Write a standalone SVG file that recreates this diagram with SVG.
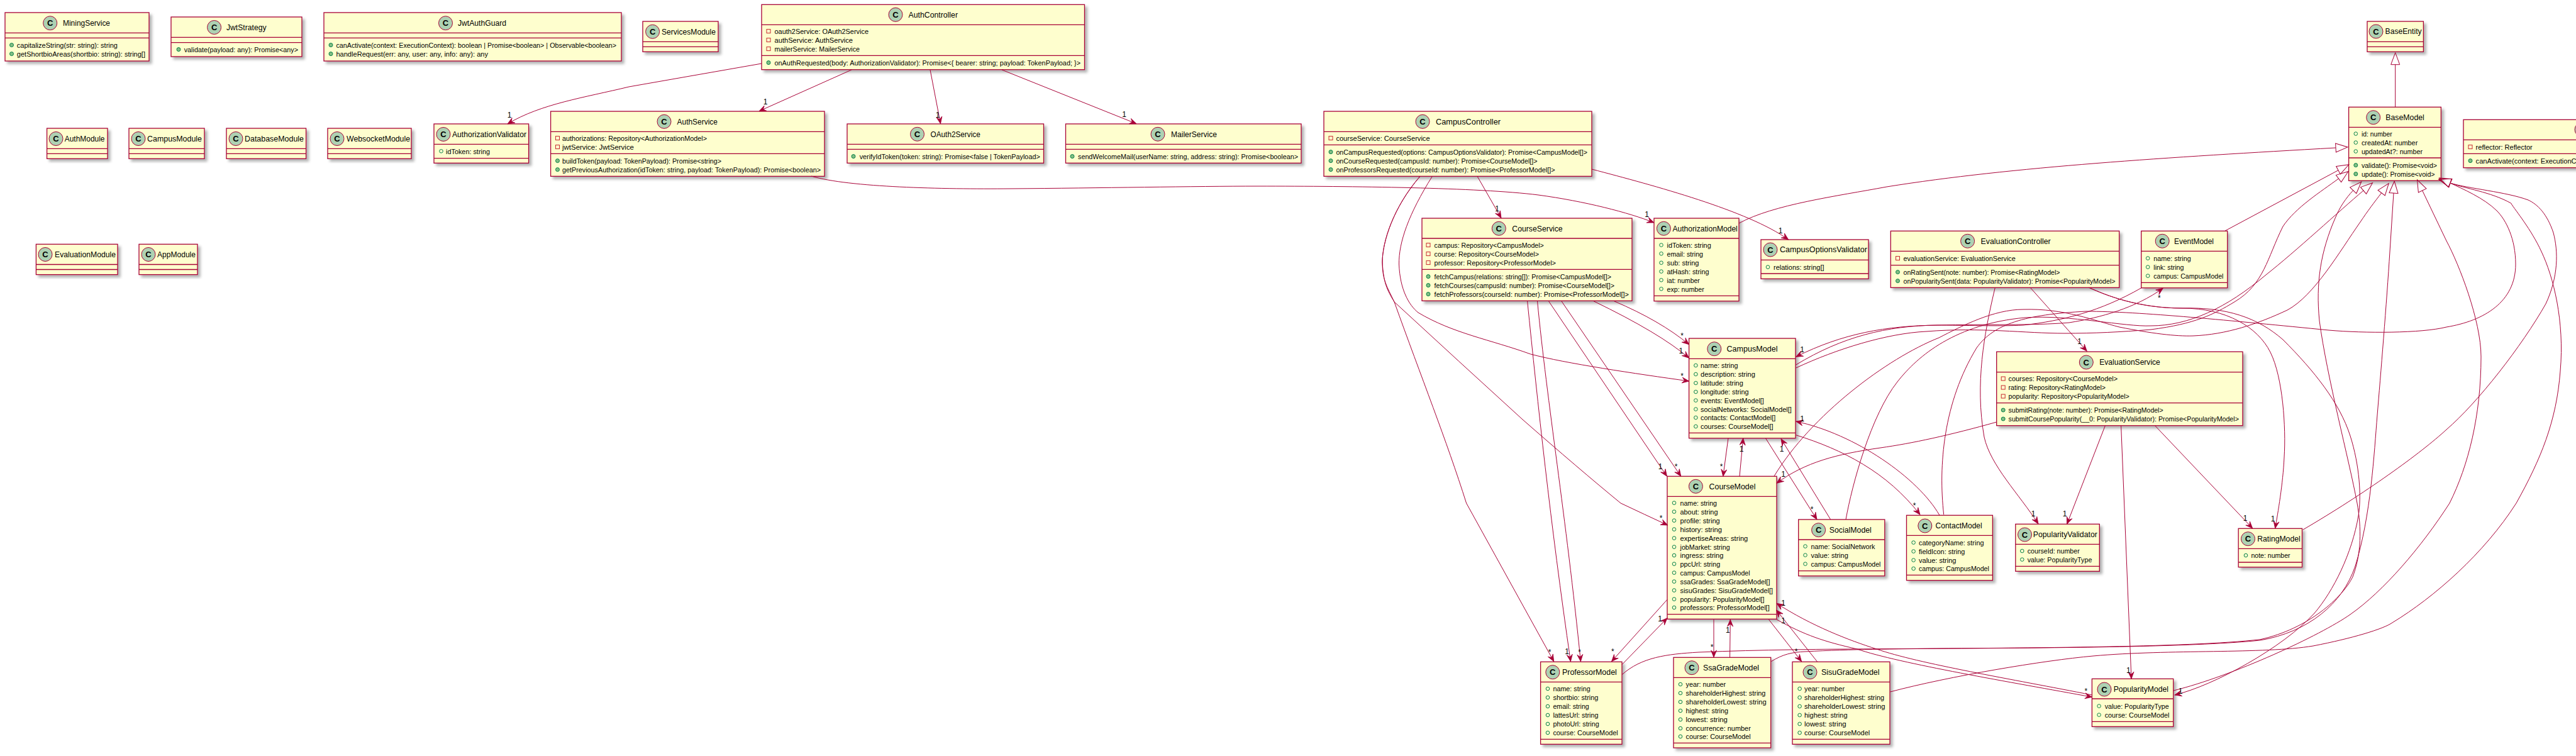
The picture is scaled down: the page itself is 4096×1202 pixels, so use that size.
<svg xmlns="http://www.w3.org/2000/svg" xmlns:xlink="http://www.w3.org/1999/xlink" width="4096" height="1202" viewBox="0 0 4096 1202">
<style>
text{font-family:"Liberation Sans",Arial,sans-serif;fill:#000}
.t{font-size:12px}
.m{font-size:11px}
.s{font-size:13px;font-weight:bold;text-anchor:middle}
.l{font-size:12px;text-anchor:middle}
.b{fill:#FEFECE;stroke:#A80036;stroke-width:1.3;filter:url(#sh)}
.d{stroke:#A80036;stroke-width:1.3;fill:none}
.c{fill:#ADD1B2;stroke:#A80036;stroke-width:1}
#edges path{fill:none;stroke:#A80036;stroke-width:1}
.a{marker-end:url(#ar)}
.i{marker-end:url(#tr)}
</style>
<defs>
<filter id="sh" x="-5%" y="-10%" width="115%" height="125%"><feGaussianBlur in="SourceAlpha" stdDeviation="2"/><feColorMatrix type="matrix" values="0 0 0 0 0 0 0 0 0 0 0 0 0 0 0 0 0 0 .3 0"/><feOffset dx="3.5" dy="3.5" result="o"/><feMerge><feMergeNode in="o"/><feMergeNode in="SourceGraphic"/></feMerge></filter>
<marker id="ar" markerUnits="userSpaceOnUse" markerWidth="14" markerHeight="12" refX="11" refY="6" orient="auto" overflow="visible"><path d="M11 6L0 1.5 4 6 0 10.5Z" fill="#A80036" stroke="#A80036" stroke-width=".8"/></marker>
<marker id="tr" markerUnits="userSpaceOnUse" markerWidth="22" markerHeight="18" refX="1" refY="9" orient="auto" overflow="visible"><path d="M1 2L20 9 1 16Z" fill="none" stroke="#A80036" stroke-width="1"/></marker>
<circle id="f" r="2.8" fill="none" stroke="#038048" stroke-width="1"/>
<circle id="p" r="3" fill="#84BE84" stroke="#038048" stroke-width="1"/>
<rect id="q" x="-3" y="-3" width="6" height="6" fill="none" stroke="#C82930" stroke-width="1"/>
</defs>
<g id="nodes">
<g id="MiningService"><rect class="b" x="8" y="20" width="229" height="77"/><path class="d" d="M8 52.3H237M8 60.3H237"/><ellipse class="c" cx="79.7" cy="36.7" rx="11" ry="11"/><text class="s" x="79.7" y="41.4">C</text><text class="t" x="100" y="40.9" textLength="75" lengthAdjust="spacingAndGlyphs">MiningService</text><use href="#p" x="18.5" y="71.6"/><text class="m" x="26.8" y="76" textLength="160.2" lengthAdjust="spacingAndGlyphs">capitalizeString(str: string): string</text><use href="#p" x="18.5" y="85.6"/><text class="m" x="26.8" y="90" textLength="204.2" lengthAdjust="spacingAndGlyphs">getShortbioAreas(shortbio: string): string[]</text></g>
<g id="JwtStrategy"><rect class="b" x="272" y="27" width="208" height="63"/><path class="d" d="M272 59.3H480M272 67.7H480"/><ellipse class="c" cx="340.6" cy="43.5" rx="11" ry="11"/><text class="s" x="340.6" y="48.2">C</text><text class="t" x="360" y="47.7" textLength="63.5" lengthAdjust="spacingAndGlyphs">JwtStrategy</text><use href="#p" x="284" y="78.6"/><text class="m" x="292.7" y="83" textLength="181.3" lengthAdjust="spacingAndGlyphs">validate(payload: any): Promise&lt;any&gt;</text></g>
<g id="JwtAuthGuard"><rect class="b" x="515" y="20" width="473" height="77"/><path class="d" d="M515 52.3H988M515 60.3H988"/><ellipse class="c" cx="708.5" cy="36.7" rx="11" ry="11"/><text class="s" x="708.5" y="41.4">C</text><text class="t" x="728" y="40.9" textLength="77" lengthAdjust="spacingAndGlyphs">JwtAuthGuard</text><use href="#p" x="526" y="71.6"/><text class="m" x="534.4" y="76" textLength="445.6" lengthAdjust="spacingAndGlyphs">canActivate(context: ExecutionContext): boolean | Promise&lt;boolean&gt; | Observable&lt;boolean&gt;</text><use href="#p" x="526" y="85.6"/><text class="m" x="534.4" y="90" textLength="241.6" lengthAdjust="spacingAndGlyphs">handleRequest(err: any, user: any, info: any): any</text></g>
<g id="ServicesModule"><rect class="b" x="1022" y="34" width="120" height="48.3"/><path class="d" d="M1022 66.3H1142M1022 74.3H1142"/><ellipse class="c" cx="1037.6" cy="50.3" rx="11" ry="11"/><text class="s" x="1037.6" y="55">C</text><text class="t" x="1052" y="54.5" textLength="86" lengthAdjust="spacingAndGlyphs">ServicesModule</text></g>
<g id="AuthController"><rect class="b" x="1211" y="7.3" width="513.5" height="103.4"/><path class="d" d="M1211 39.3H1724.5M1211 88.3H1724.5"/><ellipse class="c" cx="1424" cy="23.3" rx="11" ry="11"/><text class="s" x="1424" y="28">C</text><text class="t" x="1444.5" y="27.5" textLength="78.5" lengthAdjust="spacingAndGlyphs">AuthController</text><use href="#q" x="1222" y="49.6"/><text class="m" x="1231.5" y="54" textLength="149.5" lengthAdjust="spacingAndGlyphs">oauth2Service: OAuth2Service</text><use href="#q" x="1222" y="63.6"/><text class="m" x="1231.5" y="68" textLength="124.5" lengthAdjust="spacingAndGlyphs">authService: AuthService</text><use href="#q" x="1222" y="77.6"/><text class="m" x="1231.5" y="82" textLength="135.5" lengthAdjust="spacingAndGlyphs">mailerService: MailerService</text><use href="#p" x="1222" y="99.6"/><text class="m" x="1231.5" y="104" textLength="486.5" lengthAdjust="spacingAndGlyphs">onAuthRequested(body: AuthorizationValidator): Promise&lt;{ bearer: string; payload: TokenPayload; }&gt;</text></g>
<g id="AuthModule"><rect class="b" x="74.6" y="204" width="96.4" height="48.3"/><path class="d" d="M74.6 236.3H171M74.6 244.3H171"/><ellipse class="c" cx="89" cy="220.5" rx="11" ry="11"/><text class="s" x="89" y="225.2">C</text><text class="t" x="102.7" y="224.7" textLength="63.8" lengthAdjust="spacingAndGlyphs">AuthModule</text></g>
<g id="CampusModule"><rect class="b" x="205" y="204" width="120" height="48.3"/><path class="d" d="M205 236.3H325M205 244.3H325"/><ellipse class="c" cx="220" cy="220.5" rx="11" ry="11"/><text class="s" x="220" y="225.2">C</text><text class="t" x="234" y="224.7" textLength="87" lengthAdjust="spacingAndGlyphs">CampusModule</text></g>
<g id="DatabaseModule"><rect class="b" x="360" y="204" width="126.6" height="48.3"/><path class="d" d="M360 236.3H486.6M360 244.3H486.6"/><ellipse class="c" cx="375" cy="220.5" rx="11" ry="11"/><text class="s" x="375" y="225.2">C</text><text class="t" x="389" y="224.7" textLength="94" lengthAdjust="spacingAndGlyphs">DatabaseModule</text></g>
<g id="WebsocketModule"><rect class="b" x="521" y="204" width="133" height="48.3"/><path class="d" d="M521 236.3H654M521 244.3H654"/><ellipse class="c" cx="536" cy="220.5" rx="11" ry="11"/><text class="s" x="536" y="225.2">C</text><text class="t" x="551" y="224.7" textLength="101" lengthAdjust="spacingAndGlyphs">WebsocketModule</text></g>
<g id="AuthorizationValidator"><rect class="b" x="690" y="197" width="150.6" height="62.3"/><path class="d" d="M690 229.3H840.6M690 251.7H840.6"/><ellipse class="c" cx="705" cy="213.5" rx="11" ry="11"/><text class="s" x="705" y="218.2">C</text><text class="t" x="719" y="217.7" textLength="118" lengthAdjust="spacingAndGlyphs">AuthorizationValidator</text><use href="#f" x="701.5" y="240.3"/><text class="m" x="709" y="244.7" textLength="70" lengthAdjust="spacingAndGlyphs">idToken: string</text></g>
<g id="AuthService"><rect class="b" x="875.6" y="177" width="435.4" height="103.3"/><path class="d" d="M875.6 209.3H1311M875.6 244.3H1311"/><ellipse class="c" cx="1056" cy="193.3" rx="11" ry="11"/><text class="s" x="1056" y="198">C</text><text class="t" x="1076.5" y="197.5" textLength="64.5" lengthAdjust="spacingAndGlyphs">AuthService</text><use href="#q" x="886.5" y="219.6"/><text class="m" x="894" y="224" textLength="230" lengthAdjust="spacingAndGlyphs">authorizations: Repository&lt;AuthorizationModel&gt;</text><use href="#q" x="886.5" y="233.6"/><text class="m" x="894" y="238" textLength="114" lengthAdjust="spacingAndGlyphs">jwtService: JwtService</text><use href="#p" x="886.5" y="255.6"/><text class="m" x="894" y="260" textLength="253" lengthAdjust="spacingAndGlyphs">buildToken(payload: TokenPayload): Promise&lt;string&gt;</text><use href="#p" x="886.5" y="269.6"/><text class="m" x="894" y="274" textLength="411" lengthAdjust="spacingAndGlyphs">getPreviousAuthorization(idToken: string, payload: TokenPayload): Promise&lt;boolean&gt;</text></g>
<g id="OAuth2Service"><rect class="b" x="1347" y="197" width="312.5" height="62.3"/><path class="d" d="M1347 229.3H1659.5M1347 237.3H1659.5"/><ellipse class="c" cx="1458.5" cy="213.3" rx="11" ry="11"/><text class="s" x="1458.5" y="218">C</text><text class="t" x="1479.6" y="217.5" textLength="79.1" lengthAdjust="spacingAndGlyphs">OAuth2Service</text><use href="#p" x="1357" y="248.6"/><text class="m" x="1366.7" y="253" textLength="287" lengthAdjust="spacingAndGlyphs">verifyIdToken(token: string): Promise&lt;false | TokenPayload&gt;</text></g>
<g id="MailerService"><rect class="b" x="1694.5" y="197" width="374.5" height="62.3"/><path class="d" d="M1694.5 229.3H2069M1694.5 237.3H2069"/><ellipse class="c" cx="1841" cy="213.3" rx="11" ry="11"/><text class="s" x="1841" y="218">C</text><text class="t" x="1862" y="217.5" textLength="73" lengthAdjust="spacingAndGlyphs">MailerService</text><use href="#p" x="1705" y="248.6"/><text class="m" x="1714" y="253" textLength="350" lengthAdjust="spacingAndGlyphs">sendWelcomeMail(userName: string, address: string): Promise&lt;boolean&gt;</text></g>
<g id="CampusController"><rect class="b" x="2105" y="177" width="426" height="103.3"/><path class="d" d="M2105 209.3H2531M2105 230.3H2531"/><ellipse class="c" cx="2262" cy="193.3" rx="11" ry="11"/><text class="s" x="2262" y="198">C</text><text class="t" x="2283" y="197.5" textLength="103" lengthAdjust="spacingAndGlyphs">CampusController</text><use href="#q" x="2116" y="219.6"/><text class="m" x="2124.4" y="224" textLength="149.2" lengthAdjust="spacingAndGlyphs">courseService: CourseService</text><use href="#p" x="2116" y="241.6"/><text class="m" x="2124.4" y="246" textLength="399.6" lengthAdjust="spacingAndGlyphs">onCampusRequested(options: CampusOptionsValidator): Promise&lt;CampusModel[]&gt;</text><use href="#p" x="2116" y="255.6"/><text class="m" x="2124.4" y="260" textLength="320.1" lengthAdjust="spacingAndGlyphs">onCourseRequested(campusId: number): Promise&lt;CourseModel[]&gt;</text><use href="#p" x="2116" y="269.6"/><text class="m" x="2124.4" y="274" textLength="348.2" lengthAdjust="spacingAndGlyphs">onProfessorsRequested(courseId: number): Promise&lt;ProfessorModel[]&gt;</text></g>
<g id="EvaluationModule"><rect class="b" x="57.4" y="388.3" width="129.6" height="48.3"/><path class="d" d="M57.4 420.5H187M57.4 428.5H187"/><ellipse class="c" cx="72" cy="404.5" rx="11" ry="11"/><text class="s" x="72" y="409.2">C</text><text class="t" x="87" y="408.7" textLength="97" lengthAdjust="spacingAndGlyphs">EvaluationModule</text></g>
<g id="AppModule"><rect class="b" x="221" y="388.3" width="93" height="48.3"/><path class="d" d="M221 420.5H314M221 428.5H314"/><ellipse class="c" cx="236" cy="404.5" rx="11" ry="11"/><text class="s" x="236" y="409.2">C</text><text class="t" x="250" y="408.7" textLength="61" lengthAdjust="spacingAndGlyphs">AppModule</text></g>
<g id="CourseService"><rect class="b" x="2261" y="347" width="334" height="131.3"/><path class="d" d="M2261 379H2595M2261 428.3H2595"/><ellipse class="c" cx="2383.3" cy="363.3" rx="11" ry="11"/><text class="s" x="2383.3" y="368">C</text><text class="t" x="2404.3" y="367.5" textLength="80.4" lengthAdjust="spacingAndGlyphs">CourseService</text><use href="#q" x="2271" y="389.6"/><text class="m" x="2280.6" y="394" textLength="174.1" lengthAdjust="spacingAndGlyphs">campus: Repository&lt;CampusModel&gt;</text><use href="#q" x="2271" y="403.6"/><text class="m" x="2280.6" y="408" textLength="166.4" lengthAdjust="spacingAndGlyphs">course: Repository&lt;CourseModel&gt;</text><use href="#q" x="2271" y="417.6"/><text class="m" x="2280.6" y="422" textLength="193.4" lengthAdjust="spacingAndGlyphs">professor: Repository&lt;ProfessorModel&gt;</text><use href="#p" x="2271" y="439.6"/><text class="m" x="2280.6" y="444" textLength="281.4" lengthAdjust="spacingAndGlyphs">fetchCampus(relations: string[]): Promise&lt;CampusModel[]&gt;</text><use href="#p" x="2271" y="453.6"/><text class="m" x="2280.6" y="458" textLength="286.4" lengthAdjust="spacingAndGlyphs">fetchCourses(campusId: number): Promise&lt;CourseModel[]&gt;</text><use href="#p" x="2271" y="467.6"/><text class="m" x="2280.6" y="472" textLength="309.4" lengthAdjust="spacingAndGlyphs">fetchProfessors(courseId: number): Promise&lt;ProfessorModel[]&gt;</text></g>
<g id="AuthorizationModel"><rect class="b" x="2630" y="347" width="135" height="131.7"/><path class="d" d="M2630 379H2765M2630 470.3H2765"/><ellipse class="c" cx="2645.4" cy="363.3" rx="11" ry="11"/><text class="s" x="2645.4" y="368">C</text><text class="t" x="2659.4" y="367.5" textLength="103.4" lengthAdjust="spacingAndGlyphs">AuthorizationModel</text><use href="#f" x="2641.5" y="389.6"/><text class="m" x="2650.5" y="394" textLength="70.2" lengthAdjust="spacingAndGlyphs">idToken: string</text><use href="#f" x="2641.5" y="403.3"/><text class="m" x="2650.5" y="407.7" textLength="57.5" lengthAdjust="spacingAndGlyphs">email: string</text><use href="#f" x="2641.5" y="417.8"/><text class="m" x="2650.5" y="422.2" textLength="51" lengthAdjust="spacingAndGlyphs">sub: string</text><use href="#f" x="2641.5" y="431.6"/><text class="m" x="2650.5" y="436" textLength="67" lengthAdjust="spacingAndGlyphs">atHash: string</text><use href="#f" x="2641.5" y="445.3"/><text class="m" x="2650.5" y="449.7" textLength="52.3" lengthAdjust="spacingAndGlyphs">iat: number</text><use href="#f" x="2641.5" y="459.3"/><text class="m" x="2650.5" y="463.7" textLength="59.3" lengthAdjust="spacingAndGlyphs">exp: number</text></g>
<g id="CampusOptionsValidator"><rect class="b" x="2800" y="381" width="171" height="62.3"/><path class="d" d="M2800 413.3H2971M2800 435H2971"/><ellipse class="c" cx="2815" cy="397" rx="11" ry="11"/><text class="s" x="2815" y="401.7">C</text><text class="t" x="2830" y="401.2" textLength="139" lengthAdjust="spacingAndGlyphs">CampusOptionsValidator</text><use href="#f" x="2811" y="424.6"/><text class="m" x="2820" y="429" textLength="80.5" lengthAdjust="spacingAndGlyphs">relations: string[]</text></g>
<g id="CampusModel"><rect class="b" x="2685.6" y="538" width="169.4" height="158.7"/><path class="d" d="M2685.6 570.3H2855M2685.6 688.3H2855"/><ellipse class="c" cx="2725.8" cy="554.7" rx="11" ry="11"/><text class="s" x="2725.8" y="559.4">C</text><text class="t" x="2745.5" y="558.9" textLength="81" lengthAdjust="spacingAndGlyphs">CampusModel</text><use href="#f" x="2696.4" y="581"/><text class="m" x="2704" y="585.4" textLength="59.4" lengthAdjust="spacingAndGlyphs">name: string</text><use href="#f" x="2696.4" y="595"/><text class="m" x="2704" y="599.4" textLength="86.8" lengthAdjust="spacingAndGlyphs">description: string</text><use href="#f" x="2696.4" y="609"/><text class="m" x="2704" y="613.4" textLength="67.7" lengthAdjust="spacingAndGlyphs">latitude: string</text><use href="#f" x="2696.4" y="623"/><text class="m" x="2704" y="627.4" textLength="76.6" lengthAdjust="spacingAndGlyphs">longitude: string</text><use href="#f" x="2696.4" y="636.6"/><text class="m" x="2704" y="641" textLength="100.8" lengthAdjust="spacingAndGlyphs">events: EventModel[]</text><use href="#f" x="2696.4" y="650.6"/><text class="m" x="2704" y="655" textLength="144.8" lengthAdjust="spacingAndGlyphs">socialNetworks: SocialModel[]</text><use href="#f" x="2696.4" y="664"/><text class="m" x="2704" y="668.4" textLength="119.3" lengthAdjust="spacingAndGlyphs">contacts: ContactModel[]</text><use href="#f" x="2696.4" y="678"/><text class="m" x="2704" y="682.4" textLength="115.5" lengthAdjust="spacingAndGlyphs">courses: CourseModel[]</text></g>
<g id="CourseModel"><rect class="b" x="2651" y="757.3" width="174" height="227"/><path class="d" d="M2651 789.3H2825M2651 976.7H2825"/><ellipse class="c" cx="2696.4" cy="773.3" rx="11" ry="11"/><text class="s" x="2696.4" y="778">C</text><text class="t" x="2717.5" y="777.5" textLength="73.9" lengthAdjust="spacingAndGlyphs">CourseModel</text><use href="#f" x="2662" y="799.6"/><text class="m" x="2671.5" y="804" textLength="58.5" lengthAdjust="spacingAndGlyphs">name: string</text><use href="#f" x="2662" y="813.6"/><text class="m" x="2671.5" y="818" textLength="60" lengthAdjust="spacingAndGlyphs">about: string</text><use href="#f" x="2662" y="827.6"/><text class="m" x="2671.5" y="832" textLength="63.2" lengthAdjust="spacingAndGlyphs">profile: string</text><use href="#f" x="2662" y="841.6"/><text class="m" x="2671.5" y="846" textLength="66.5" lengthAdjust="spacingAndGlyphs">history: string</text><use href="#f" x="2662" y="855.6"/><text class="m" x="2671.5" y="860" textLength="107.8" lengthAdjust="spacingAndGlyphs">expertiseAreas: string</text><use href="#f" x="2662" y="869.6"/><text class="m" x="2671.5" y="874" textLength="79.1" lengthAdjust="spacingAndGlyphs">jobMarket: string</text><use href="#f" x="2662" y="883"/><text class="m" x="2671.5" y="887.4" textLength="68.9" lengthAdjust="spacingAndGlyphs">ingress: string</text><use href="#f" x="2662" y="896.6"/><text class="m" x="2671.5" y="901" textLength="63.8" lengthAdjust="spacingAndGlyphs">ppcUrl: string</text><use href="#f" x="2662" y="910.6"/><text class="m" x="2671.5" y="915" textLength="111" lengthAdjust="spacingAndGlyphs">campus: CampusModel</text><use href="#f" x="2662" y="924.6"/><text class="m" x="2671.5" y="929" textLength="142.9" lengthAdjust="spacingAndGlyphs">ssaGrades: SsaGradeModel[]</text><use href="#f" x="2662" y="938.6"/><text class="m" x="2671.5" y="943" textLength="147.4" lengthAdjust="spacingAndGlyphs">sisuGrades: SisuGradeModel[]</text><use href="#f" x="2662" y="952.6"/><text class="m" x="2671.5" y="957" textLength="134" lengthAdjust="spacingAndGlyphs">popularity: PopularityModel[]</text><use href="#f" x="2662" y="966"/><text class="m" x="2671.5" y="970.4" textLength="142.3" lengthAdjust="spacingAndGlyphs">professors: ProfessorModel[]</text></g>
<g id="ProfessorModel"><rect class="b" x="2449.6" y="1052.3" width="129.4" height="131"/><path class="d" d="M2449.6 1084.3H2579M2449.6 1175.3H2579"/><ellipse class="c" cx="2468.8" cy="1068.7" rx="11" ry="11"/><text class="s" x="2468.8" y="1073.4">C</text><text class="t" x="2484" y="1072.9" textLength="86.8" lengthAdjust="spacingAndGlyphs">ProfessorModel</text><use href="#f" x="2461" y="1095"/><text class="m" x="2469.4" y="1099.4" textLength="59.3" lengthAdjust="spacingAndGlyphs">name: string</text><use href="#f" x="2461" y="1109"/><text class="m" x="2469.4" y="1113.4" textLength="72.1" lengthAdjust="spacingAndGlyphs">shortbio: string</text><use href="#f" x="2461" y="1123"/><text class="m" x="2469.4" y="1127.4" textLength="57.4" lengthAdjust="spacingAndGlyphs">email: string</text><use href="#f" x="2461" y="1137"/><text class="m" x="2469.4" y="1141.4" textLength="72.1" lengthAdjust="spacingAndGlyphs">lattesUrl: string</text><use href="#f" x="2461" y="1151"/><text class="m" x="2469.4" y="1155.4" textLength="73.3" lengthAdjust="spacingAndGlyphs">photoUrl: string</text><use href="#f" x="2461" y="1165"/><text class="m" x="2469.4" y="1169.4" textLength="103.3" lengthAdjust="spacingAndGlyphs">course: CourseModel</text></g>
<g id="SsaGradeModel"><rect class="b" x="2661" y="1045.3" width="154.7" height="143.7"/><path class="d" d="M2661 1077.3H2815.7M2661 1181.3H2815.7"/><ellipse class="c" cx="2690" cy="1061.7" rx="11" ry="11"/><text class="s" x="2690" y="1066.4">C</text><text class="t" x="2708" y="1065.9" textLength="89" lengthAdjust="spacingAndGlyphs">SsaGradeModel</text><use href="#f" x="2672" y="1088"/><text class="m" x="2680.5" y="1092.4" textLength="63.5" lengthAdjust="spacingAndGlyphs">year: number</text><use href="#f" x="2672" y="1102"/><text class="m" x="2680.5" y="1106.4" textLength="126.9" lengthAdjust="spacingAndGlyphs">shareholderHighest: string</text><use href="#f" x="2672" y="1116"/><text class="m" x="2680.5" y="1120.4" textLength="128.2" lengthAdjust="spacingAndGlyphs">shareholderLowest: string</text><use href="#f" x="2672" y="1130"/><text class="m" x="2680.5" y="1134.4" textLength="67.5" lengthAdjust="spacingAndGlyphs">highest: string</text><use href="#f" x="2672" y="1144"/><text class="m" x="2680.5" y="1148.4" textLength="66.3" lengthAdjust="spacingAndGlyphs">lowest: string</text><use href="#f" x="2672" y="1158"/><text class="m" x="2680.5" y="1162.4" textLength="103.3" lengthAdjust="spacingAndGlyphs">concurrence: number</text><use href="#f" x="2672" y="1171"/><text class="m" x="2680.5" y="1175.4" textLength="103.3" lengthAdjust="spacingAndGlyphs">course: CourseModel</text></g>
<g id="SisuGradeModel"><rect class="b" x="2850" y="1052.3" width="155" height="131"/><path class="d" d="M2850 1084.3H3005M2850 1175.3H3005"/><ellipse class="c" cx="2878" cy="1068.7" rx="11" ry="11"/><text class="s" x="2878" y="1073.4">C</text><text class="t" x="2896" y="1072.9" textLength="92.5" lengthAdjust="spacingAndGlyphs">SisuGradeModel</text><use href="#f" x="2861.6" y="1095"/><text class="m" x="2869" y="1099.4" textLength="64" lengthAdjust="spacingAndGlyphs">year: number</text><use href="#f" x="2861.6" y="1109"/><text class="m" x="2869" y="1113.4" textLength="127" lengthAdjust="spacingAndGlyphs">shareholderHighest: string</text><use href="#f" x="2861.6" y="1123"/><text class="m" x="2869" y="1127.4" textLength="128.4" lengthAdjust="spacingAndGlyphs">shareholderLowest: string</text><use href="#f" x="2861.6" y="1137"/><text class="m" x="2869" y="1141.4" textLength="68.5" lengthAdjust="spacingAndGlyphs">highest: string</text><use href="#f" x="2861.6" y="1151"/><text class="m" x="2869" y="1155.4" textLength="66.6" lengthAdjust="spacingAndGlyphs">lowest: string</text><use href="#f" x="2861.6" y="1165"/><text class="m" x="2869" y="1169.4" textLength="104.2" lengthAdjust="spacingAndGlyphs">course: CourseModel</text></g>
<g id="SocialModel"><rect class="b" x="2859.7" y="826" width="137.1" height="89.7"/><path class="d" d="M2859.7 858H2996.8M2859.7 907.7H2996.8"/><ellipse class="c" cx="2891.6" cy="842.7" rx="11" ry="11"/><text class="s" x="2891.6" y="847.4">C</text><text class="t" x="2908.8" y="846.9" textLength="67" lengthAdjust="spacingAndGlyphs">SocialModel</text><use href="#f" x="2870.5" y="868.6"/><text class="m" x="2879.5" y="873" textLength="102" lengthAdjust="spacingAndGlyphs">name: SocialNetwork</text><use href="#f" x="2870.5" y="882.6"/><text class="m" x="2879.5" y="887" textLength="59.3" lengthAdjust="spacingAndGlyphs">value: string</text><use href="#f" x="2870.5" y="896.6"/><text class="m" x="2879.5" y="901" textLength="110.9" lengthAdjust="spacingAndGlyphs">campus: CampusModel</text></g>
<g id="ContactModel"><rect class="b" x="3031.5" y="819.3" width="136.9" height="103.4"/><path class="d" d="M3031.5 851.3H3168.4M3031.5 914.3H3168.4"/><ellipse class="c" cx="3060.8" cy="836" rx="11" ry="11"/><text class="s" x="3060.8" y="840.7">C</text><text class="t" x="3077.6" y="840.2" textLength="74.1" lengthAdjust="spacingAndGlyphs">ContactModel</text><use href="#f" x="3042.6" y="862.6"/><text class="m" x="3051" y="867" textLength="103.5" lengthAdjust="spacingAndGlyphs">categoryName: string</text><use href="#f" x="3042.6" y="876.6"/><text class="m" x="3051" y="881" textLength="73.4" lengthAdjust="spacingAndGlyphs">fieldIcon: string</text><use href="#f" x="3042.6" y="890.6"/><text class="m" x="3051" y="895" textLength="59.4" lengthAdjust="spacingAndGlyphs">value: string</text><use href="#f" x="3042.6" y="904"/><text class="m" x="3051" y="908.4" textLength="111.9" lengthAdjust="spacingAndGlyphs">campus: CampusModel</text></g>
<g id="PopularityValidator"><rect class="b" x="3204.8" y="833.3" width="133.5" height="75"/><path class="d" d="M3204.8 865.3H3338.3M3204.8 900.3H3338.3"/><ellipse class="c" cx="3219.5" cy="850" rx="11" ry="11"/><text class="s" x="3219.5" y="854.7">C</text><text class="t" x="3232.8" y="854.2" textLength="102" lengthAdjust="spacingAndGlyphs">PopularityValidator</text><use href="#f" x="3215.3" y="876"/><text class="m" x="3223.7" y="880.4" textLength="83.1" lengthAdjust="spacingAndGlyphs">courseId: number</text><use href="#f" x="3215.3" y="889.6"/><text class="m" x="3223.7" y="894" textLength="102.7" lengthAdjust="spacingAndGlyphs">value: PopularityType</text></g>
<g id="RatingModel"><rect class="b" x="3559.2" y="840.3" width="101.3" height="61.4"/><path class="d" d="M3559.2 872.3H3660.5M3559.2 894H3660.5"/><ellipse class="c" cx="3574.5" cy="856.7" rx="11" ry="11"/><text class="s" x="3574.5" y="861.4">C</text><text class="t" x="3589.2" y="860.9" textLength="68.5" lengthAdjust="spacingAndGlyphs">RatingModel</text><use href="#f" x="3571" y="883"/><text class="m" x="3579.4" y="887.4" textLength="62.2" lengthAdjust="spacingAndGlyphs">note: number</text></g>
<g id="PopularityModel"><rect class="b" x="3326.4" y="1079.3" width="129.3" height="76"/><path class="d" d="M3326.4 1111H3455.7M3326.4 1147.3H3455.7"/><ellipse class="c" cx="3346" cy="1096" rx="11" ry="11"/><text class="s" x="3346" y="1100.7">C</text><text class="t" x="3360.7" y="1100.2" textLength="87.3" lengthAdjust="spacingAndGlyphs">PopularityModel</text><use href="#f" x="3337.6" y="1122.6"/><text class="m" x="3346.7" y="1127" textLength="102" lengthAdjust="spacingAndGlyphs">value: PopularityType</text><use href="#f" x="3337.6" y="1136.6"/><text class="m" x="3346.7" y="1141" textLength="102.7" lengthAdjust="spacingAndGlyphs">course: CourseModel</text></g>
<g id="EvaluationService"><rect class="b" x="3174.7" y="559.3" width="391.3" height="117.4"/><path class="d" d="M3174.7 591.7H3566M3174.7 640.7H3566"/><ellipse class="c" cx="3317.3" cy="576" rx="11" ry="11"/><text class="s" x="3317.3" y="580.7">C</text><text class="t" x="3338.3" y="580.2" textLength="96.5" lengthAdjust="spacingAndGlyphs">EvaluationService</text><use href="#q" x="3185.2" y="602"/><text class="m" x="3193.6" y="606.4" textLength="173.4" lengthAdjust="spacingAndGlyphs">courses: Repository&lt;CourseModel&gt;</text><use href="#q" x="3185.2" y="616"/><text class="m" x="3193.6" y="620.4" textLength="154.4" lengthAdjust="spacingAndGlyphs">rating: Repository&lt;RatingModel&gt;</text><use href="#q" x="3185.2" y="630"/><text class="m" x="3193.6" y="634.4" textLength="192.2" lengthAdjust="spacingAndGlyphs">popularity: Repository&lt;PopularityModel&gt;</text><use href="#p" x="3185.2" y="652"/><text class="m" x="3193.6" y="656.4" textLength="246" lengthAdjust="spacingAndGlyphs">submitRating(note: number): Promise&lt;RatingModel&gt;</text><use href="#p" x="3185.2" y="666"/><text class="m" x="3193.6" y="670.4" textLength="366.3" lengthAdjust="spacingAndGlyphs">submitCoursePopularity(__0: PopularityValidator): Promise&lt;PopularityModel&gt;</text></g>
<g id="EvaluationController"><rect class="b" x="3006.3" y="367.3" width="363.4" height="90"/><path class="d" d="M3006.3 399.3H3369.7M3006.3 421.7H3369.7"/><ellipse class="c" cx="3128.6" cy="383.3" rx="11" ry="11"/><text class="s" x="3128.6" y="388">C</text><text class="t" x="3149.6" y="387.5" textLength="111.1" lengthAdjust="spacingAndGlyphs">EvaluationController</text><use href="#q" x="3017.5" y="410.6"/><text class="m" x="3026.6" y="415" textLength="178.2" lengthAdjust="spacingAndGlyphs">evaluationService: EvaluationService</text><use href="#p" x="3017.5" y="432.6"/><text class="m" x="3026.6" y="437" textLength="248.8" lengthAdjust="spacingAndGlyphs">onRatingSent(note: number): Promise&lt;RatingModel&gt;</text><use href="#p" x="3017.5" y="446.6"/><text class="m" x="3026.6" y="451" textLength="336.9" lengthAdjust="spacingAndGlyphs">onPopularitySent(data: PopularityValidator): Promise&lt;PopularityModel&gt;</text></g>
<g id="EventModel"><rect class="b" x="3404.7" y="367.3" width="137" height="90.4"/><path class="d" d="M3404.7 399.3H3541.7M3404.7 449.3H3541.7"/><ellipse class="c" cx="3438.2" cy="383.3" rx="11" ry="11"/><text class="s" x="3438.2" y="388">C</text><text class="t" x="3457" y="387.5" textLength="63" lengthAdjust="spacingAndGlyphs">EventModel</text><use href="#f" x="3415.2" y="410.6"/><text class="m" x="3424.3" y="415" textLength="59.4" lengthAdjust="spacingAndGlyphs">name: string</text><use href="#f" x="3415.2" y="424.6"/><text class="m" x="3424.3" y="429" textLength="48.2" lengthAdjust="spacingAndGlyphs">link: string</text><use href="#f" x="3415.2" y="438.6"/><text class="m" x="3424.3" y="443" textLength="111.1" lengthAdjust="spacingAndGlyphs">campus: CampusModel</text></g>
<g id="BaseEntity"><rect class="b" x="3764" y="34" width="89.4" height="48.3"/><path class="d" d="M3764 66.3H3853.4M3764 74.3H3853.4"/><ellipse class="c" cx="3778" cy="50" rx="11" ry="11"/><text class="s" x="3778" y="54.7">C</text><text class="t" x="3792.6" y="54.2" textLength="58" lengthAdjust="spacingAndGlyphs">BaseEntity</text></g>
<g id="BaseModel"><rect class="b" x="3734.6" y="170.3" width="146.8" height="117"/><path class="d" d="M3734.6 202.3H3881.4M3734.6 251H3881.4"/><ellipse class="c" cx="3773.7" cy="186.7" rx="11" ry="11"/><text class="s" x="3773.7" y="191.4">C</text><text class="t" x="3793.3" y="190.9" textLength="61.5" lengthAdjust="spacingAndGlyphs">BaseModel</text><use href="#f" x="3745.8" y="212.6"/><text class="m" x="3754.9" y="217" textLength="48.9" lengthAdjust="spacingAndGlyphs">id: number</text><use href="#f" x="3745.8" y="226.6"/><text class="m" x="3754.9" y="231" textLength="89.4" lengthAdjust="spacingAndGlyphs">createdAt: number</text><use href="#f" x="3745.8" y="240.6"/><text class="m" x="3754.9" y="245" textLength="97.1" lengthAdjust="spacingAndGlyphs">updatedAt?: number</text><use href="#p" x="3745.8" y="262.6"/><text class="m" x="3754.9" y="267" textLength="120.1" lengthAdjust="spacingAndGlyphs">validate(): Promise&lt;void&gt;</text><use href="#p" x="3745.8" y="276.6"/><text class="m" x="3754.9" y="281" textLength="116.7" lengthAdjust="spacingAndGlyphs">update(): Promise&lt;void&gt;</text></g>
<g id="CutOffClass"><rect class="b" x="3917" y="190.3" width="200" height="76.4"/><path class="d" d="M3917 222.3H4117M3917 244.3H4117"/><ellipse class="c" cx="4105" cy="206" rx="11" ry="11"/><use href="#q" x="3928" y="233.6"/><text class="m" x="3936.6" y="238" textLength="90.2" lengthAdjust="spacingAndGlyphs">reflector: Reflector</text><use href="#p" x="3928" y="255.6"/><text class="m" x="3936.6" y="260" textLength="160" lengthAdjust="spacingAndGlyphs">canActivate(context: ExecutionC</text></g>
</g>
<g id="edges">
<path class="a" d="M1211 101L1000 138C930 155 860 165 807 197"/>
<path class="a" d="M1354 111L1207 176.7"/>
<path class="a" d="M1479 111L1495.5 196.7"/>
<path class="a" d="M1593 111L1807 196.7"/>
<path class="a" d="M1290 280C1350 298 1500 301 1606 300C1750 299 1900 296 2000 296C2150 296 2350 298 2446 310C2520 320 2590 338 2630 354"/>
<path class="a" d="M2349 280.3L2387 346.7"/>
<path class="a" d="M2531 269C2630 295 2780 335 2843.7 381"/>
<path class="a" d="M2258 280.3C2215 330 2198 385 2198 417C2198 445 2205 455 2217 480C2260 600 2300 700 2331.6 800L2470.7 1051.7"/>
<path class="a" d="M2258 280.3C2215 330 2198 385 2198 417C2200 450 2205 460 2217 480Q2320 575 2421 667Q2510 745 2577 800Q2615 818 2651.8 835"/>
<path class="a" d="M2277.4 280.3C2240 340 2224 385 2224.5 420C2226 460 2240 485 2255 497C2310 530 2370 540 2433.7 563C2490 578 2600 594 2685.6 606"/>
<path class="a" d="M2428.6 478.7C2445 640 2465 830 2497.4 1051.7"/>
<path class="a" d="M2444.5 478.7C2460 640 2490 820 2513.4 1051.7"/>
<path class="a" d="M2462.4 478.7L2650.5 757.3"/>
<path class="a" d="M2482.8 478.7L2672.8 757.3"/>
<path class="a" d="M2533.8 478.7Q2640 530 2685.6 569.3"/>
<path class="a" d="M2566.3 478.7Q2640 510 2685.6 547.7"/>
<path class="a" d="M2748 696.7L2739.8 757.3"/>
<path class="a" d="M2766 757.3L2771.7 696.7"/>
<path class="a" d="M2807.4 696.7L2889 826"/>
<path class="a" d="M2910.7 826L2832 697.7"/>
<path class="a" d="M3084 819.3C3050 760 2950 690 2855.7 670"/>
<path class="a" d="M2855.7 691.7C2930 715 3000 750 3053 818.3"/>
<path class="a" d="M3405 457.7C3340 495 3280 510 3217 517C3180 519 3120 517 3080 517C3000 518 2930 530 2855.7 567.3"/>
<path class="a" d="M2855.7 580C2930 535 3000 518 3080 517C3160 515 3230 518 3290 513C3340 505 3395 490 3439.3 458.3"/>
<path class="a" d="M3174.7 671C3100 692 3040 705 2990 712C2920 722 2870 735 2825 768.3"/>
<path class="a" d="M3326.4 1105C3200 1080 3050 1055 2984 1032C2940 1018 2880 995 2825 959.3"/>
<path class="a" d="M2825 985C2870 1010 2900 1020 2953 1032C3020 1055 3200 1085 3326.4 1108.3"/>
<path class="a" d="M2889.7 1052.3L2824.7 970"/>
<path class="a" d="M2812.5 985L2864.6 1051.7"/>
<path class="a" d="M2725 985L2725 1045"/>
<path class="a" d="M2750.6 1045L2751.3 985"/>
<path class="a" d="M2651 953.3L2562.5 1051.7"/>
<path class="a" d="M2579 1056.7L2651 982.7"/>
<path class="a" d="M3228.3 457.3L3318.3 558.3"/>
<path class="a" d="M3172.3 457.3C3155 530 3140 610 3155 695C3165 740 3210 785 3241 833"/>
<path class="a" d="M3321.7 457.3C3350 470 3400 490 3470 490C3540 490 3590 520 3610 560C3630 600 3635 680 3632 727C3630 770 3622 815 3617.7 840"/>
<path class="a" d="M3321.7 457.3C3350 470 3400 490 3470 490C3540 488 3590 505 3630 540C3680 590 3720 640 3737 693C3752 740 3755 790 3750 820C3740 880 3710 940 3680 975C3630 1030 3520 1090 3457.8 1105"/>
<path class="a" d="M3347.4 676.7L3286.6 833.3"/>
<path class="a" d="M3372.6 676.7L3389 1079.3"/>
<path class="a" d="M3426.5 676.7L3581.7 840"/>
<path class="i" d="M3808.7 170.3L3808.7 102.7"/>
<path class="i" d="M2765 355C2820 325 2920 312 3000 297C3200 265 3450 250 3714 235"/>
<path class="i" d="M3538 367L3718 270.7"/>
<path class="i" d="M2855.7 585C2920 555 3000 530 3063 527C3150 520 3220 530 3283 530C3330 530 3370 528 3420 524C3490 515 3520 500 3553 480C3600 452 3605 410 3630 360C3650 330 3690 305 3718.5 284"/>
<path class="i" d="M2935 826C2945 770 2975 660 3017 607C3050 565 3110 515 3220 505C3290 500 3380 520 3420 518C3480 518 3540 490 3603 437C3650 400 3720 335 3758 303"/>
<path class="i" d="M2821 757C2880 660 3000 570 3083 537C3120 518 3170 492 3217 492C3283 490 3330 510 3370 520C3420 530 3460 535 3487 534C3540 532 3590 515 3637 493C3680 470 3720 400 3753 353C3765 335 3775 322 3786.7 306.7"/>
<path class="i" d="M3090.7 818.3C3082 740 3090 640 3143 553C3170 515 3220 500 3317 495C3400 495 3550 510 3703 525C3760 530 3850 530 3890 520C3950 510 4000 480 4000 420C4000 380 3985 350 3970 335C3950 315 3915 300 3896 291"/>
<path class="i" d="M2579 1072.7C2610 1045 2650 1040 2701 1037C2800 1033 2900 1032 3000 1031.7C3200 1030 3480 1030 3594 1016.7C3670 1000 3725 950 3741 917C3755 880 3755 840 3748 800C3735 730 3700 600 3688 510C3682 450 3690 400 3713 347C3720 330 3730 315 3741.7 302.7"/>
<path class="i" d="M2816.3 1051.7C2835 1040 2850 1037 2870 1036C2950 1032 3000 1032 3100 1031C3300 1030 3500 1028 3594 1018C3670 1005 3725 960 3745 900C3770 820 3775 720 3780 660C3785 600 3795 480 3800 400L3806 307"/>
<path class="i" d="M3005.6 1100C3100 1075 3250 1050 3328 1043C3450 1032 3600 1040 3678 1027C3740 1015 3790 1000 3804 990C3870 950 3950 880 4001 800C4040 730 4065 670 4071 590C4078 510 4060 440 4041 400C4025 365 4000 335 3992.5 323C3960 305 3920 300 3896 291"/>
<path class="i" d="M3661.7 842.3C3760 785 3850 720 3890 683C3940 640 4010 550 4048 483C4068 440 4068 400 4060 370C4050 340 4035 325 4020 318C3985 305 3925 300 3896 291"/>
<path class="i" d="M3456 1098C3550 1075 3690 1010 3737 977C3790 940 3850 870 3895 800C3925 740 3945 660 3945 567C3945 510 3910 420 3890 383L3851.7 303"/>
</g>
<g id="labels">
<text class="l" x="810" y="186.5">1</text><text class="l" x="1217" y="165.5">1</text><text class="l" x="1491" y="186.5">1</text><text class="l" x="1787.6" y="185.5">1</text><text class="l" x="2618.6" y="344.5">1</text><text class="l" x="2380.7" y="335.5">1</text><text class="l" x="2831" y="371">1</text>
<text class="l" x="2464" y="1040.5">*</text><text class="l" x="2674.7" y="601.5">*</text><text class="l" x="2641" y="828">*</text><text class="l" x="2491.7" y="1040">1</text><text class="l" x="2511.5" y="1040.5">*</text><text class="l" x="2640" y="746">1</text><text class="l" x="2665" y="745.5">*</text><text class="l" x="2672.8" y="562">1</text><text class="l" x="2674.7" y="537.5">*</text><text class="l" x="2737" y="745.5">*</text><text class="l" x="2769" y="717.5">1</text><text class="l" x="2881" y="813.5">*</text><text class="l" x="2833" y="717.5">1</text><text class="l" x="3044" y="808">*</text><text class="l" x="2865.7" y="669.5">1</text><text class="l" x="2865.7" y="560">1</text><text class="l" x="3433.3" y="478">*</text><text class="l" x="2835.5" y="757.5">1</text><text class="l" x="2835.5" y="962.5">1</text><text class="l" x="2835.5" y="990.5">1</text><text class="l" x="3316.8" y="1102.5">*</text><text class="l" x="2856" y="1039.5">*</text><text class="l" x="2722" y="1033">*</text><text class="l" x="2747.4" y="1006">1</text><text class="l" x="2564.4" y="1039.5">*</text><text class="l" x="2639.7" y="987.5">1</text><text class="l" x="3306.7" y="547">1</text><text class="l" x="3233" y="821">1</text><text class="l" x="3283" y="821">1</text><text class="l" x="3384.4" y="1069.5">1</text><text class="l" x="3570" y="827.5">1</text><text class="l" x="3614" y="828.5">1</text><text class="l" x="3467" y="1102.5">1</text>
</g>
</svg>
